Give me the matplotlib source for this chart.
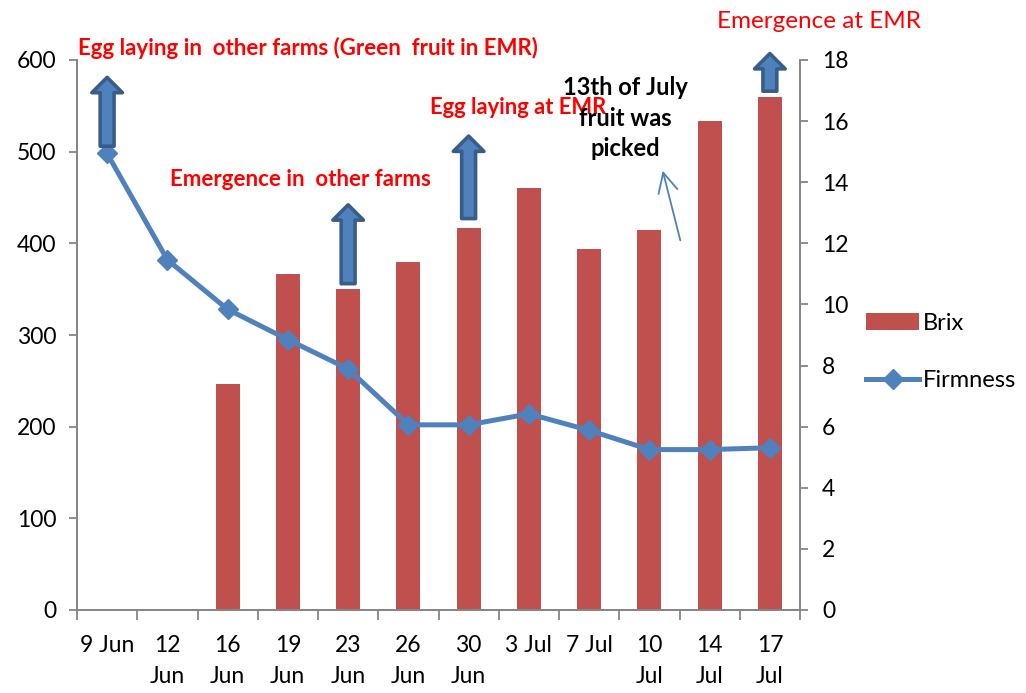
import numpy as np
import matplotlib
matplotlib.use("Agg")
import matplotlib.pyplot as plt

plt.rcParams["font.family"] = ["Lato", "DejaVu Sans"]

# data
dates = ["9 Jun", "12\nJun", "16\nJun", "19\nJun", "23\nJun", "26\nJun",
         "30\nJun", "3 Jul", "7 Jul", "10\nJul", "14\nJul", "17\nJul"]
brix = [np.nan, np.nan, 7.4, 11.0, 10.5, 11.4, 12.5, 13.8, 11.8, 12.45, 16.0, 16.8]
firmness = [498, 382, 328, 295, 263, 202, 202, 214, 196, 175, 175, 177]

# block arrows: (category index, tail value, tip value) on the left scale
arrows = [(0, 506, 581), (4, 356, 442), (6, 427, 517), (11, 566, 607)]

BAR = "#c0504d"
LINE = "#4f81bd"
EDGE = "#385d8a"
AXC = "#868686"

fig = plt.figure(figsize=(10.26, 6.93), dpi=100)
ax = fig.add_axes([77 / 1026, 1 - 610 / 693, 723 / 1026, 550 / 693])
ax2 = ax.twinx()
x = np.arange(len(dates))

ax2.bar(x, brix, width=0.4, color=BAR, label="Brix")
ax.plot(x, firmness, color=LINE, lw=3.6, marker="D", ms=10, mec=LINE, mfc=LINE,
        label="Firmness", zorder=3)
ax.set_zorder(ax2.get_zorder() + 1)
ax.patch.set_visible(False)

ax.set_xlim(-0.5, len(dates) - 0.5)
ax.set_ylim(0, 600)
ax2.set_ylim(0, 18)
ax.set_yticks(range(0, 601, 100))
ax2.set_yticks(range(0, 19, 2))
ax.set_xticks(x)
ax.set_xticklabels(dates, linespacing=1.6)
ax.set_xticks(np.arange(-0.5, len(dates), 1), minor=True)

for a in (ax, ax2):
    a.spines["top"].set_visible(False)
    for s in ("left", "right", "bottom"):
        a.spines[s].set_color(AXC)
        a.spines[s].set_linewidth(1.3)
ax.tick_params(axis="x", which="major", length=0, labelsize=16.5, pad=18)
ax.tick_params(axis="x", which="minor", length=7, color=AXC, width=1.3)
ax.tick_params(axis="y", length=6, color=AXC, width=1.3, labelsize=16.5, pad=9)
ax2.tick_params(axis="y", length=6, color=AXC, width=1.3, labelsize=16.5, pad=10)

for xi, y0, y1 in arrows:
    ax.annotate("", xy=(xi, y1), xytext=(xi, y0), annotation_clip=False,
                arrowprops=dict(arrowstyle="simple,head_width=2.2,head_length=1.1,tail_width=1.0",
                                fc=LINE, ec=EDGE, lw=2.6, shrinkA=0, shrinkB=0,
                                mutation_scale=10), zorder=5)

red = "#ff0000"
fig.text(78 / 1026, 1 - 48 / 693, "Egg laying in  other farms (Green  fruit in EMR)",
         color=red, fontsize=16, fontweight="bold", va="center")
fig.text(170 / 1026, 1 - 180 / 693, "Emergence in  other farms",
         color=red, fontsize=16, fontweight="bold", va="center")
fig.text(430 / 1026, 1 - 108 / 693, "Egg laying at EMR",
         color=red, fontsize=15.8, fontweight="bold", va="center")
fig.text(717 / 1026, 1 - 22 / 693, "Emergence at EMR",
         color=red, fontsize=17.5, va="center")
fig.text(625 / 1026, 1 - 118 / 693, "13th of July\nfruit was\npicked",
         color="black", fontsize=17, fontweight="bold", ha="center", va="center",
         linespacing=1.42)
fig.add_artist(matplotlib.patches.FancyArrowPatch(
    (681 / 1026, 1 - 243 / 693), (662 / 1026, 1 - 168 / 693),
    transform=fig.transFigure, arrowstyle="->,head_width=0.35,head_length=0.7",
    color=LINE, lw=1.3, mutation_scale=20))

h1, l1 = ax2.get_legend_handles_labels()
h2, l2 = ax.get_legend_handles_labels()
fig.legend(h1 + h2, l1 + l2, loc="center left", bbox_to_anchor=(866 / 1026, 1 - 352 / 693),
           frameon=False, fontsize=17, labelspacing=1.55, handlelength=2.25,
           handletextpad=0.15, borderpad=0, borderaxespad=0)

fig.savefig("out.png", dpi=100)
